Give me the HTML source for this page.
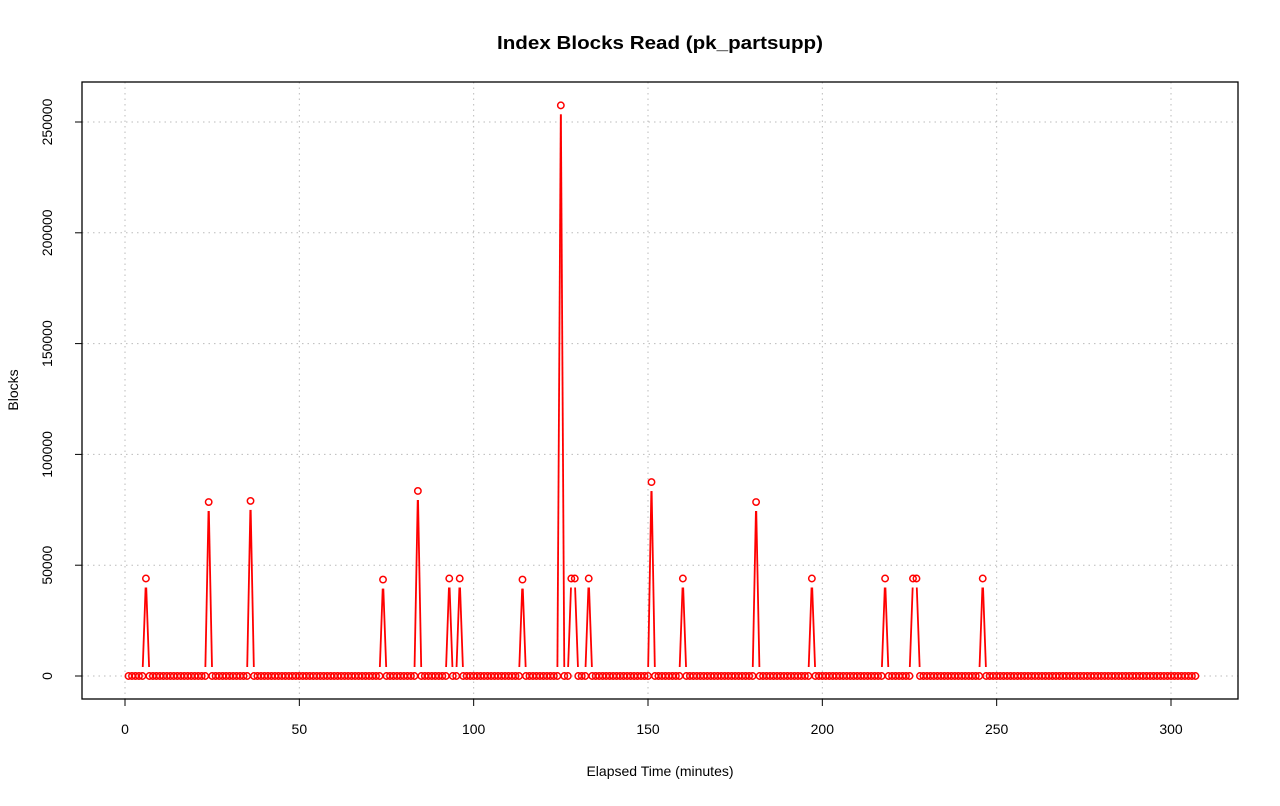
<!DOCTYPE html>
<html><head><meta charset="utf-8"><style>
body{margin:0;background:#fff}
svg text{font-family:"Liberation Sans",sans-serif;fill:#000}
</style></head><body>
<svg id="chart" width="1280" height="801" xmlns="http://www.w3.org/2000/svg">
<rect width="1280" height="801" fill="#fff"/>
<text x="660" y="49" text-anchor="middle" font-size="18" font-weight="bold" textLength="326" lengthAdjust="spacingAndGlyphs">Index Blocks Read (pk_partsupp)</text>
<text x="660" y="776" text-anchor="middle" font-size="14">Elapsed Time (minutes)</text>
<text x="18" y="390" text-anchor="middle" font-size="14" transform="rotate(-90 18 390)">Blocks</text>
<g id="grid"></g><g id="axes"></g><g id="series"></g>
<rect x="82" y="82" width="1156" height="617" fill="none" stroke="#000" stroke-width="1.3"/>
</svg>
<script>
const spikeTimes=[6,24,36,74,84,93,96,114,125,128,129,133,151,160,181,197,218,226,227,246];
const spikeValues=[44000,78500,79000,43500,83500,44000,44000,43500,257500,44000,44000,44000,87500,44000,78500,44000,44000,44000,44000,44000];
const timeCount=307;
const xTicks=[0,50,100,150,200,250,300];
const yTicks=[0,50000,100000,150000,200000,250000];
const NS='http://www.w3.org/2000/svg';
const xs=v=>125+v*(1171-125)/300;
const ys=v=>676-v*(676-122)/250000;
function mk(t,a,p){const e=document.createElementNS(NS,t);for(const k in a)e.setAttribute(k,a[k]);p.appendChild(e);return e;}
const grid=document.getElementById('grid'),axes=document.getElementById('axes'),ser=document.getElementById('series');
xTicks.forEach(t=>{const x=xs(t);
const g=mk('line',{x1:x,x2:x,y1:82,y2:699,stroke:'#bbb','stroke-dasharray':'1.5,4'},grid);


const l=mk('line',{x1:x,x2:x,y1:699,y2:706,stroke:'#000'},axes);


const tx=mk('text',{x:x,y:734,'text-anchor':'middle','font-size':14},axes);tx.textContent=t;

});
yTicks.forEach(t=>{const y=ys(t);
const g=mk('line',{x1:82,x2:1238,y1:y,y2:y,stroke:'#bbb','stroke-dasharray':'1.5,4'},grid);


const l=mk('line',{x1:75,x2:82,y1:y,y2:y,stroke:'#000'},axes);


const tx=mk('text',{x:52,y:y,'text-anchor':'middle','font-size':14,transform:`rotate(-90 52 ${y})`},axes);tx.textContent=t;

});
const pts=[];
for(let i=1;i<=timeCount;i++){const k=spikeTimes.indexOf(i);pts.push([xs(i),ys(k>=0?spikeValues[k]:0)]);}
const gap=9;
for(let i=0;i<pts.length-1;i++){const[a,b]=pts[i],[c,d]=pts[i+1];const L=Math.hypot(c-a,d-b);
if(L<=2*gap)continue;const ux=(c-a)/L,uy=(d-b)/L;
const s=mk('line',{x1:a+ux*gap,y1:b+uy*gap,x2:c-ux*gap,y2:d-uy*gap,stroke:'#f00','stroke-width':1.8},ser);

}
pts.forEach(p=>{const c=mk('circle',{cx:p[0],cy:p[1],r:3.2,fill:'none',stroke:'#f00','stroke-width':1.5},ser);

});
</script>
</body></html>
